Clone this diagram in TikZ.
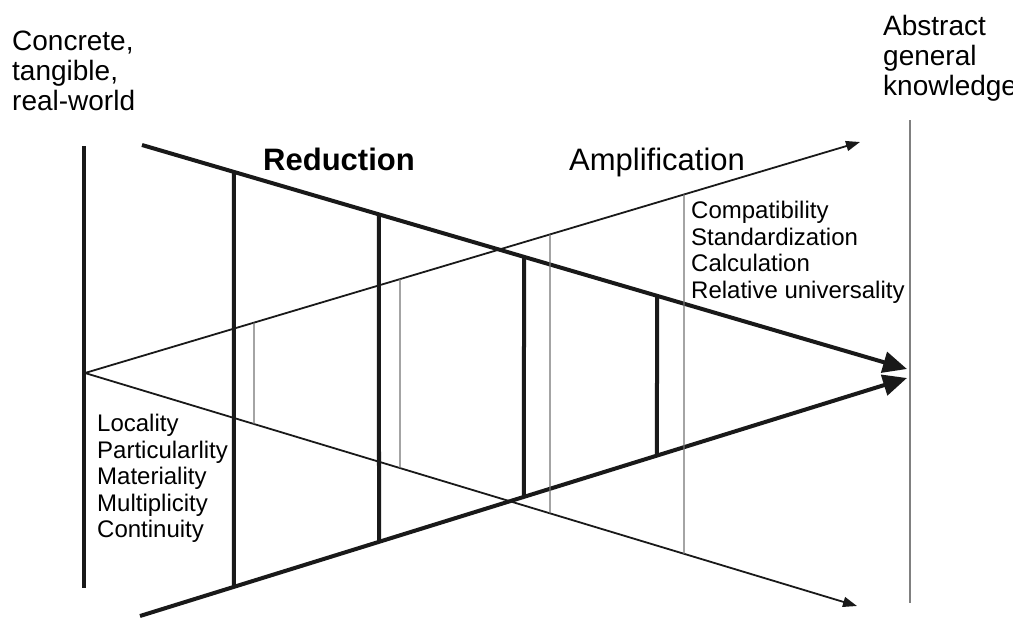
\documentclass[tikz,border=0pt]{standalone}
\usepackage{fontspec}
\setmainfont{Liberation Sans}
\usetikzlibrary{arrows.meta,calc}

\begin{document}
\begin{tikzpicture}[x=1pt,y=-1pt,
  thickline/.style={line width=4pt,black!90},
  thinline/.style={line width=1.8pt,black!90},
  hairline/.style={line width=1.1pt,black!55},
  bigtip/.style={-{Triangle[length=24pt,width=21pt]}},
  smalltip/.style={-{Triangle[length=14pt,width=10pt]}},
  title/.style={align=left,inner sep=0pt,anchor=north west,font=\fontsize{28}{30}\selectfont},
  aspects/.style={align=left,inner sep=0pt,anchor=north west,font=\fontsize{24}{26.5}\selectfont}]
\useasboundingbox (0,0) rectangle (1013,619);

\coordinate (apex) at (85,373);
\coordinate (redA) at (142,145);
\coordinate (redB) at (907,369);
\coordinate (redC) at (140,616);
\coordinate (redD) at (907,378);
\coordinate (ampA) at (860,142);
\coordinate (ampB) at (857,606);
\coordinate (concreteTop) at (84,146);
\coordinate (concreteBot) at (84,588);
\coordinate (abstractTop) at (910,120);
\coordinate (abstractBot) at (910,603);

\draw[thickline] (concreteTop) -- (concreteBot);
\draw[line width=1.6pt,black!50] (abstractTop) -- (abstractBot);

\draw[thinline,smalltip] (apex) -- (ampA);
\draw[thinline,smalltip] (apex) -- (ampB);
\draw[thickline,bigtip] (redA) -- (redB);
\draw[thickline,bigtip] (redC) -- (redD);

\foreach \x in {234,379,524,657}
  \draw[thickline] ($(redA)!{(\x-142)/765}!(redB)$) -- ($(redC)!{(\x-140)/767}!(redD)$);
\foreach \x in {254,400,550,684}
  \draw[hairline] ($(apex)!{(\x-85)/775}!(ampA)$) -- ($(apex)!{(\x-85)/772}!(ampB)$);

\node[title] (concrete) at (12,31) {Concrete,\\tangible,\\real-world};
\node[title] (abstract) at (883,15) {Abstract\\general\\knowledge};
\node[inner sep=0pt,anchor=north west,font=\fontsize{31}{31}\selectfont\bfseries] (reduction) at (263,148) {Reduction};
\node[inner sep=0pt,anchor=north west,font=\fontsize{31}{31}\selectfont] (amplification) at (569,148) {Amplification};
\node[aspects] (gains) at (691,201) {Compatibility\\Standardization\\Calculation\\Relative universality};
\node[aspects] (losses) at (97,414) {Locality\\Particularlity\\Materiality\\Multiplicity\\Continuity};

\end{tikzpicture}
\end{document}
